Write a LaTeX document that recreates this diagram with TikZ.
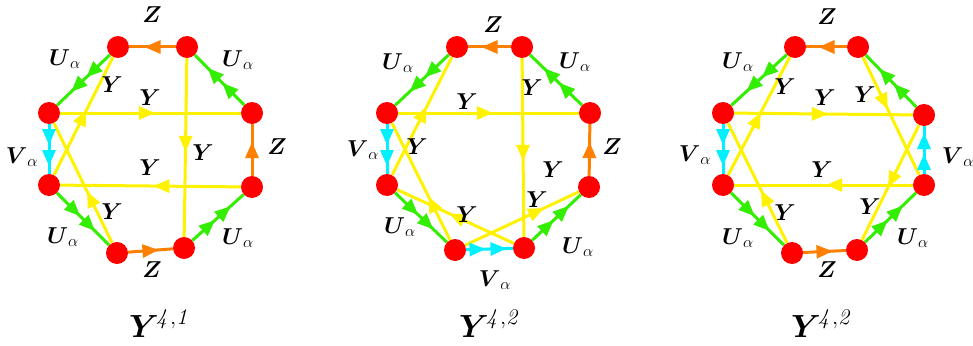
\RequirePackage{fix-cm}
\documentclass[tikz,border=0pt]{standalone}
\usepackage{amsmath}
\usepackage{xcolor}
\definecolor{nodered}{HTML}{FF0000}
\definecolor{zorange}{HTML}{FF8000}
\definecolor{ugreen}{HTML}{33EE00}
\definecolor{vcyan}{HTML}{00F0FF}
\definecolor{yyellow}{HTML}{FFF200}
\usetikzlibrary{arrows.meta,decorations.markings}
\newcommand{\Zlab}{$\boldsymbol{Z}$}
\newcommand{\Ylab}{$\boldsymbol{Y}$}
\newcommand{\Ulab}{$\boldsymbol{U}_{\alpha}$}
\newcommand{\Vlab}{$\boldsymbol{V}_{\alpha}$}
\tikzset{
  vertex/.style={circle, fill=nodered, minimum size=22pt, inner sep=0pt},
  qtip/.tip={Triangle[length=16pt,width=13pt]},
  oneway/.style={
    decoration={markings, mark=at position #1 with {\arrow[xshift=8pt]{qtip}}},
    postaction={decorate}
  },
  twoway/.style={
    decoration={markings, mark=at position 0.5 with {\arrow[xshift=17pt]{qtip}\arrow[xshift=-4pt]{qtip}}},
    postaction={decorate}
  },
  zline/.style={color=zorange, line width=3pt, oneway=0.5},
  uline/.style={color=ugreen, line width=3pt, twoway},
  vline/.style={color=vcyan, line width=3pt, twoway},
  yline/.style={color=yyellow, line width=3pt, oneway=#1},
  yline/.default=0.5,
  lab/.style={font=\fontsize{23}{25}\selectfont, inner sep=0pt},
  title/.style={font=\fontsize{32}{34}\selectfont, inner sep=0pt}
}

\begin{document}
\begin{tikzpicture}[x=1pt,y=-1pt]
  \useasboundingbox (0,0) rectangle (973,345);

  % Y^{4,1}
  \node[vertex] (aTL) at (118,47) {};
  \node[vertex] (aTR) at (187,47) {};
  \node[vertex] (aRU) at (252,113) {};
  \node[vertex] (aRL) at (252,187) {};
  \node[vertex] (aBR) at (184,248) {};
  \node[vertex] (aBL) at (117,253) {};
  \node[vertex] (aLL) at (49,185) {};
  \node[vertex] (aLU) at (49,113) {};

  \draw[yline=0.48] (aLU) -- (aRU);
  \draw[yline=0.44] (aRL) -- (aLL);
  \draw[yline=0.48] (aTR) -- (aBR);
  \draw[yline=0.49] (aLL) -- (aTL);
  \draw[yline=0.37] (aBL) -- (aLU);
  \draw[zline] (aTR) -- (aTL);
  \draw[uline] (aTL) -- (aLU);
  \draw[vline] (aLU) -- (aLL);
  \draw[uline] (aLL) -- (aBL);
  \draw[zline] (aBL) -- (aBR);
  \draw[uline] (aBR) -- (aRL);
  \draw[zline] (aRL) -- (aRU);
  \draw[uline] (aRU) -- (aTR);

  \node[lab] (aZt) at (152,15) {\Zlab};
  \node[lab] (aUtl) at (65,59) {\Ulab};
  \node[lab] (aUtr) at (238,60) {\Ulab};
  \node[lab] (aYd1) at (112,85) {\Ylab};
  \node[lab] (aYh1) at (150,98) {\Ylab};
  \node[lab] (aV) at (22,157) {\Vlab};
  \node[lab] (aZr) at (277,147) {\Zlab};
  \node[lab] (aYv) at (203,153) {\Ylab};
  \node[lab] (aYh2) at (150,168) {\Ylab};
  \node[lab] (aYd2) at (112,212) {\Ylab};
  \node[lab] (aUbl) at (63,237) {\Ulab};
  \node[lab] (aUbr) at (238,238) {\Ulab};
  \node[lab] (aZb) at (152,270) {\Zlab};
  \node[title] (aname) at (160,324) {$\boldsymbol{Y}^{\kern-3pt\mathit{4,1}}$};

  % Y^{4,2}, first phase
  \node[vertex] (bTL) at (457,47) {};
  \node[vertex] (bTR) at (522,47) {};
  \node[vertex] (bRU) at (590,113) {};
  \node[vertex] (bRL) at (589,187) {};
  \node[vertex] (bBR) at (524,248) {};
  \node[vertex] (bBL) at (455,250) {};
  \node[vertex] (bLL) at (387,185) {};
  \node[vertex] (bLU) at (387,113) {};

  \draw[yline=0.48] (bLU) -- (bRU);
  \draw[yline=0.53] (bTR) -- (bBR);
  \draw[yline=0.52] (bLL) -- (bTL);
  \draw[yline=0.31] (bBL) -- (bLU);
  \draw[yline=0.49] (bBR) -- (bLL);
  \draw[yline=0.63] (bBL) -- (bRL);
  \draw[zline] (bTR) -- (bTL);
  \draw[uline] (bTL) -- (bLU);
  \draw[vline] (bLU) -- (bLL);
  \draw[uline] (bLL) -- (bBL);
  \draw[vline] (bBL) -- (bBR);
  \draw[uline] (bBR) -- (bRL);
  \draw[zline] (bRL) -- (bRU);
  \draw[uline] (bRU) -- (bTR);

  \node[lab] (bZt) at (493,25) {\Zlab};
  \node[lab] (bUtl) at (398,63) {\Ulab};
  \node[lab] (bUtr) at (575,62) {\Ulab};
  \node[lab] (bYh) at (467,102) {\Ylab};
  \node[lab] (bYv) at (532,88) {\Ylab};
  \node[lab] (bV) at (363,150) {\Vlab};
  \node[lab] (bYd1) at (417,147) {\Ylab};
  \node[lab] (bZr) at (612,147) {\Zlab};
  \node[lab] (bYr1) at (553,170) {\Ylab};
  \node[lab] (bYr2) at (537,200) {\Ylab};
  \node[lab] (bYd2) at (467,215) {\Ylab};
  \node[lab] (bUbl) at (400,227) {\Ulab};
  \node[lab] (bUbr) at (578,247) {\Ulab};
  \node[lab] (bVb) at (495,280) {\Vlab};
  \node[title] (bname) at (490,324) {$\boldsymbol{Y}^{\kern-3pt\mathit{4,2}}$};

  % Y^{4,2}, second phase
  \node[vertex] (cTL) at (795,47) {};
  \node[vertex] (cTR) at (858,47) {};
  \node[vertex] (cRU) at (924,115) {};
  \node[vertex] (cRL) at (924,185) {};
  \node[vertex] (cBR) at (857,250) {};
  \node[vertex] (cBL) at (792,253) {};
  \node[vertex] (cLL) at (723,185) {};
  \node[vertex] (cLU) at (723,113) {};

  \draw[yline=0.48] (cLU) -- (cRU);
  \draw[yline=0.44] (cRL) -- (cLL);
  \draw[yline=0.47] (cLL) -- (cTL);
  \draw[yline=0.38] (cBL) -- (cLU);
  \draw[yline=0.38] (cTR) -- (cRL);
  \draw[yline=0.48] (cRU) -- (cBR);
  \draw[zline] (cTR) -- (cTL);
  \draw[uline] (cTL) -- (cLU);
  \draw[vline] (cLU) -- (cLL);
  \draw[uline] (cLL) -- (cBL);
  \draw[zline] (cBL) -- (cBR);
  \draw[uline] (cBR) -- (cRL);
  \draw[vline] (cRL) -- (cRU);
  \draw[uline] (cRU) -- (cTR);

  \node[lab] (cZt) at (827,17) {\Zlab};
  \node[lab] (cUtl) at (738,62) {\Ulab};
  \node[lab] (cYd1) at (785,87) {\Ylab};
  \node[lab] (cYh1) at (825,98) {\Ylab};
  \node[lab] (cYd3) at (865,95) {\Ylab};
  \node[lab] (cVl) at (695,155) {\Vlab};
  \node[lab] (cVr) at (958,157) {\Vlab};
  \node[lab] (cYh2) at (822,170) {\Ylab};
  \node[lab] (cYd2) at (785,213) {\Ylab};
  \node[lab] (cYd4) at (870,207) {\Ylab};
  \node[lab] (cUbl) at (738,238) {\Ulab};
  \node[lab] (cUbr) at (913,238) {\Ulab};
  \node[lab] (cZb) at (827,270) {\Zlab};
  \node[title] (cname) at (822,324) {$\boldsymbol{Y}^{\kern-3pt\mathit{4,2}}$};
\end{tikzpicture}
\end{document}
